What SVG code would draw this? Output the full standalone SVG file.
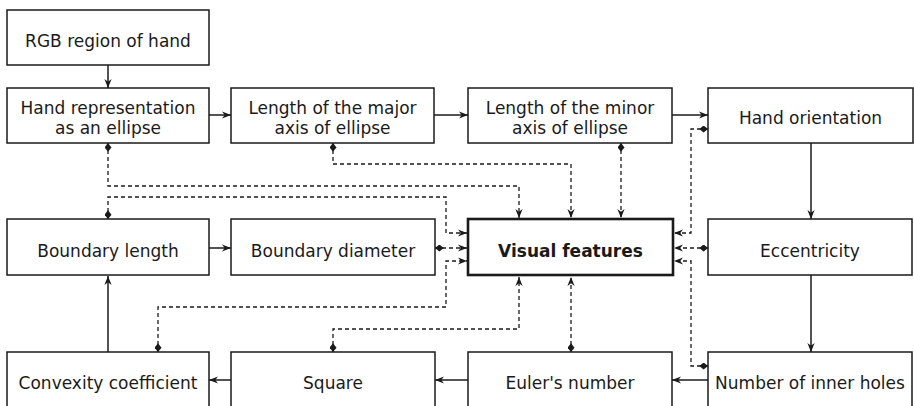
<svg xmlns="http://www.w3.org/2000/svg" width="914" height="406" viewBox="0 0 914 406">
  <style>
    .box { fill: #ffffff; stroke: #1a1a1a; stroke-width: 1.5; }
    .main { fill: #ffffff; stroke: #1a1a1a; stroke-width: 2.6; }
    .lbl { font-family: "DejaVu Sans", Verdana, sans-serif; font-size: 17px; fill: #1a1a1a; text-anchor: middle; }
    .bold { font-weight: bold; }
    .flow { fill: none; stroke: #1a1a1a; stroke-width: 1.5; marker-end: url(#arrow); }
    .link { fill: none; stroke: #1a1a1a; stroke-width: 1.3; stroke-dasharray: 4 3; marker-start: url(#diamond); marker-end: url(#arrow); }
  </style>
  <defs>
    <marker id="arrow" viewBox="0 0 10 10" refX="10" refY="5" markerWidth="9" markerHeight="9" markerUnits="userSpaceOnUse" orient="auto">
      <path d="M0,1 L10,5 L0,9 L3,5 z" fill="#1a1a1a"/>
    </marker>
    <marker id="diamond" viewBox="0 0 10 8" refX="0" refY="4" markerWidth="9" markerHeight="7" markerUnits="userSpaceOnUse" orient="auto">
      <path d="M0,4 L5,0 L10,4 L5,8 z" fill="#1a1a1a"/>
    </marker>
  </defs>
  <rect width="914" height="406" fill="#ffffff"/>

  <!-- connectors -->
  <g id="connectors">
    <!-- solid flow -->
    <path class="flow" d="M108,65 V88"/>
    <path class="flow" d="M209,115 H231"/>
    <path class="flow" d="M434,115 H468"/>
    <path class="flow" d="M672,115 H708"/>
    <path class="flow" d="M811,143 V219"/>
    <path class="flow" d="M811,275 V352"/>
    <path class="flow" d="M708,380 H672"/>
    <path class="flow" d="M468,380 H435"/>
    <path class="flow" d="M231,380 H209"/>
    <path class="flow" d="M108,352 V276"/>
    <path class="flow" d="M209,248 H231"/>
    <!-- dashed links into Visual features -->
    <path class="link" d="M108,143 V186 H519 V218"/>
    <path class="link" d="M333,143 V164 H571 V218"/>
    <path class="link" d="M621,143 V218"/>
    <path class="link" d="M108,219 V197 H446 V233 H467"/>
    <path class="link" d="M435,248 H467"/>
    <path class="link" d="M158,352 V307 H446 V261 H467"/>
    <path class="link" d="M333,352 V329 H519 V277"/>
    <path class="link" d="M571,352 V277"/>
    <path class="link" d="M708,129 H691 V233 H674"/>
    <path class="link" d="M708,248 H674"/>
    <path class="link" d="M708,366 H691 V261 H674"/>
  </g>

  <g id="rgb-region">
    <rect class="box" x="7" y="10" width="202" height="55"/>
    <text class="lbl" x="108" y="46.5">RGB region of hand</text>
  </g>
  <g id="hand-ellipse">
    <rect class="box" x="7" y="88" width="202" height="55"/>
    <text class="lbl" x="108" y="113.5">Hand representation</text>
    <text class="lbl" x="108" y="134">as an ellipse</text>
  </g>
  <g id="major-axis">
    <rect class="box" x="231" y="88" width="203" height="55"/>
    <text class="lbl" x="332.5" y="113.5">Length of the major</text>
    <text class="lbl" x="332.5" y="134">axis of ellipse</text>
  </g>
  <g id="minor-axis">
    <rect class="box" x="468" y="88" width="204" height="55"/>
    <text class="lbl" x="570" y="113.5">Length of the minor</text>
    <text class="lbl" x="570" y="134">axis of ellipse</text>
  </g>
  <g id="hand-orientation">
    <rect class="box" x="708" y="88" width="205" height="55"/>
    <text class="lbl" x="810.5" y="124">Hand orientation</text>
  </g>
  <g id="boundary-length">
    <rect class="box" x="7" y="219" width="202" height="56"/>
    <text class="lbl" x="108" y="256.5">Boundary length</text>
  </g>
  <g id="boundary-diameter">
    <rect class="box" x="231" y="219" width="204" height="56"/>
    <text class="lbl" x="333" y="256.5">Boundary diameter</text>
  </g>
  <g id="visual-features">
    <rect class="main" x="468" y="219" width="205" height="56"/>
    <text class="lbl bold" x="570.5" y="256.5">Visual features</text>
  </g>
  <g id="eccentricity">
    <rect class="box" x="708" y="219" width="204" height="56"/>
    <text class="lbl" x="810" y="256.5">Eccentricity</text>
  </g>
  <g id="convexity">
    <rect class="box" x="7" y="352" width="202" height="60"/>
    <text class="lbl" x="108" y="388.5">Convexity coefficient</text>
  </g>
  <g id="square">
    <rect class="box" x="231" y="352" width="204" height="60"/>
    <text class="lbl" x="333" y="388.5">Square</text>
  </g>
  <g id="euler-number">
    <rect class="box" x="468" y="352" width="204" height="60"/>
    <text class="lbl" x="570" y="388.5">Euler's number</text>
  </g>
  <g id="inner-holes">
    <rect class="box" x="708" y="352" width="204" height="60"/>
    <text class="lbl" x="810" y="388.5">Number of inner holes</text>
  </g>
</svg>
